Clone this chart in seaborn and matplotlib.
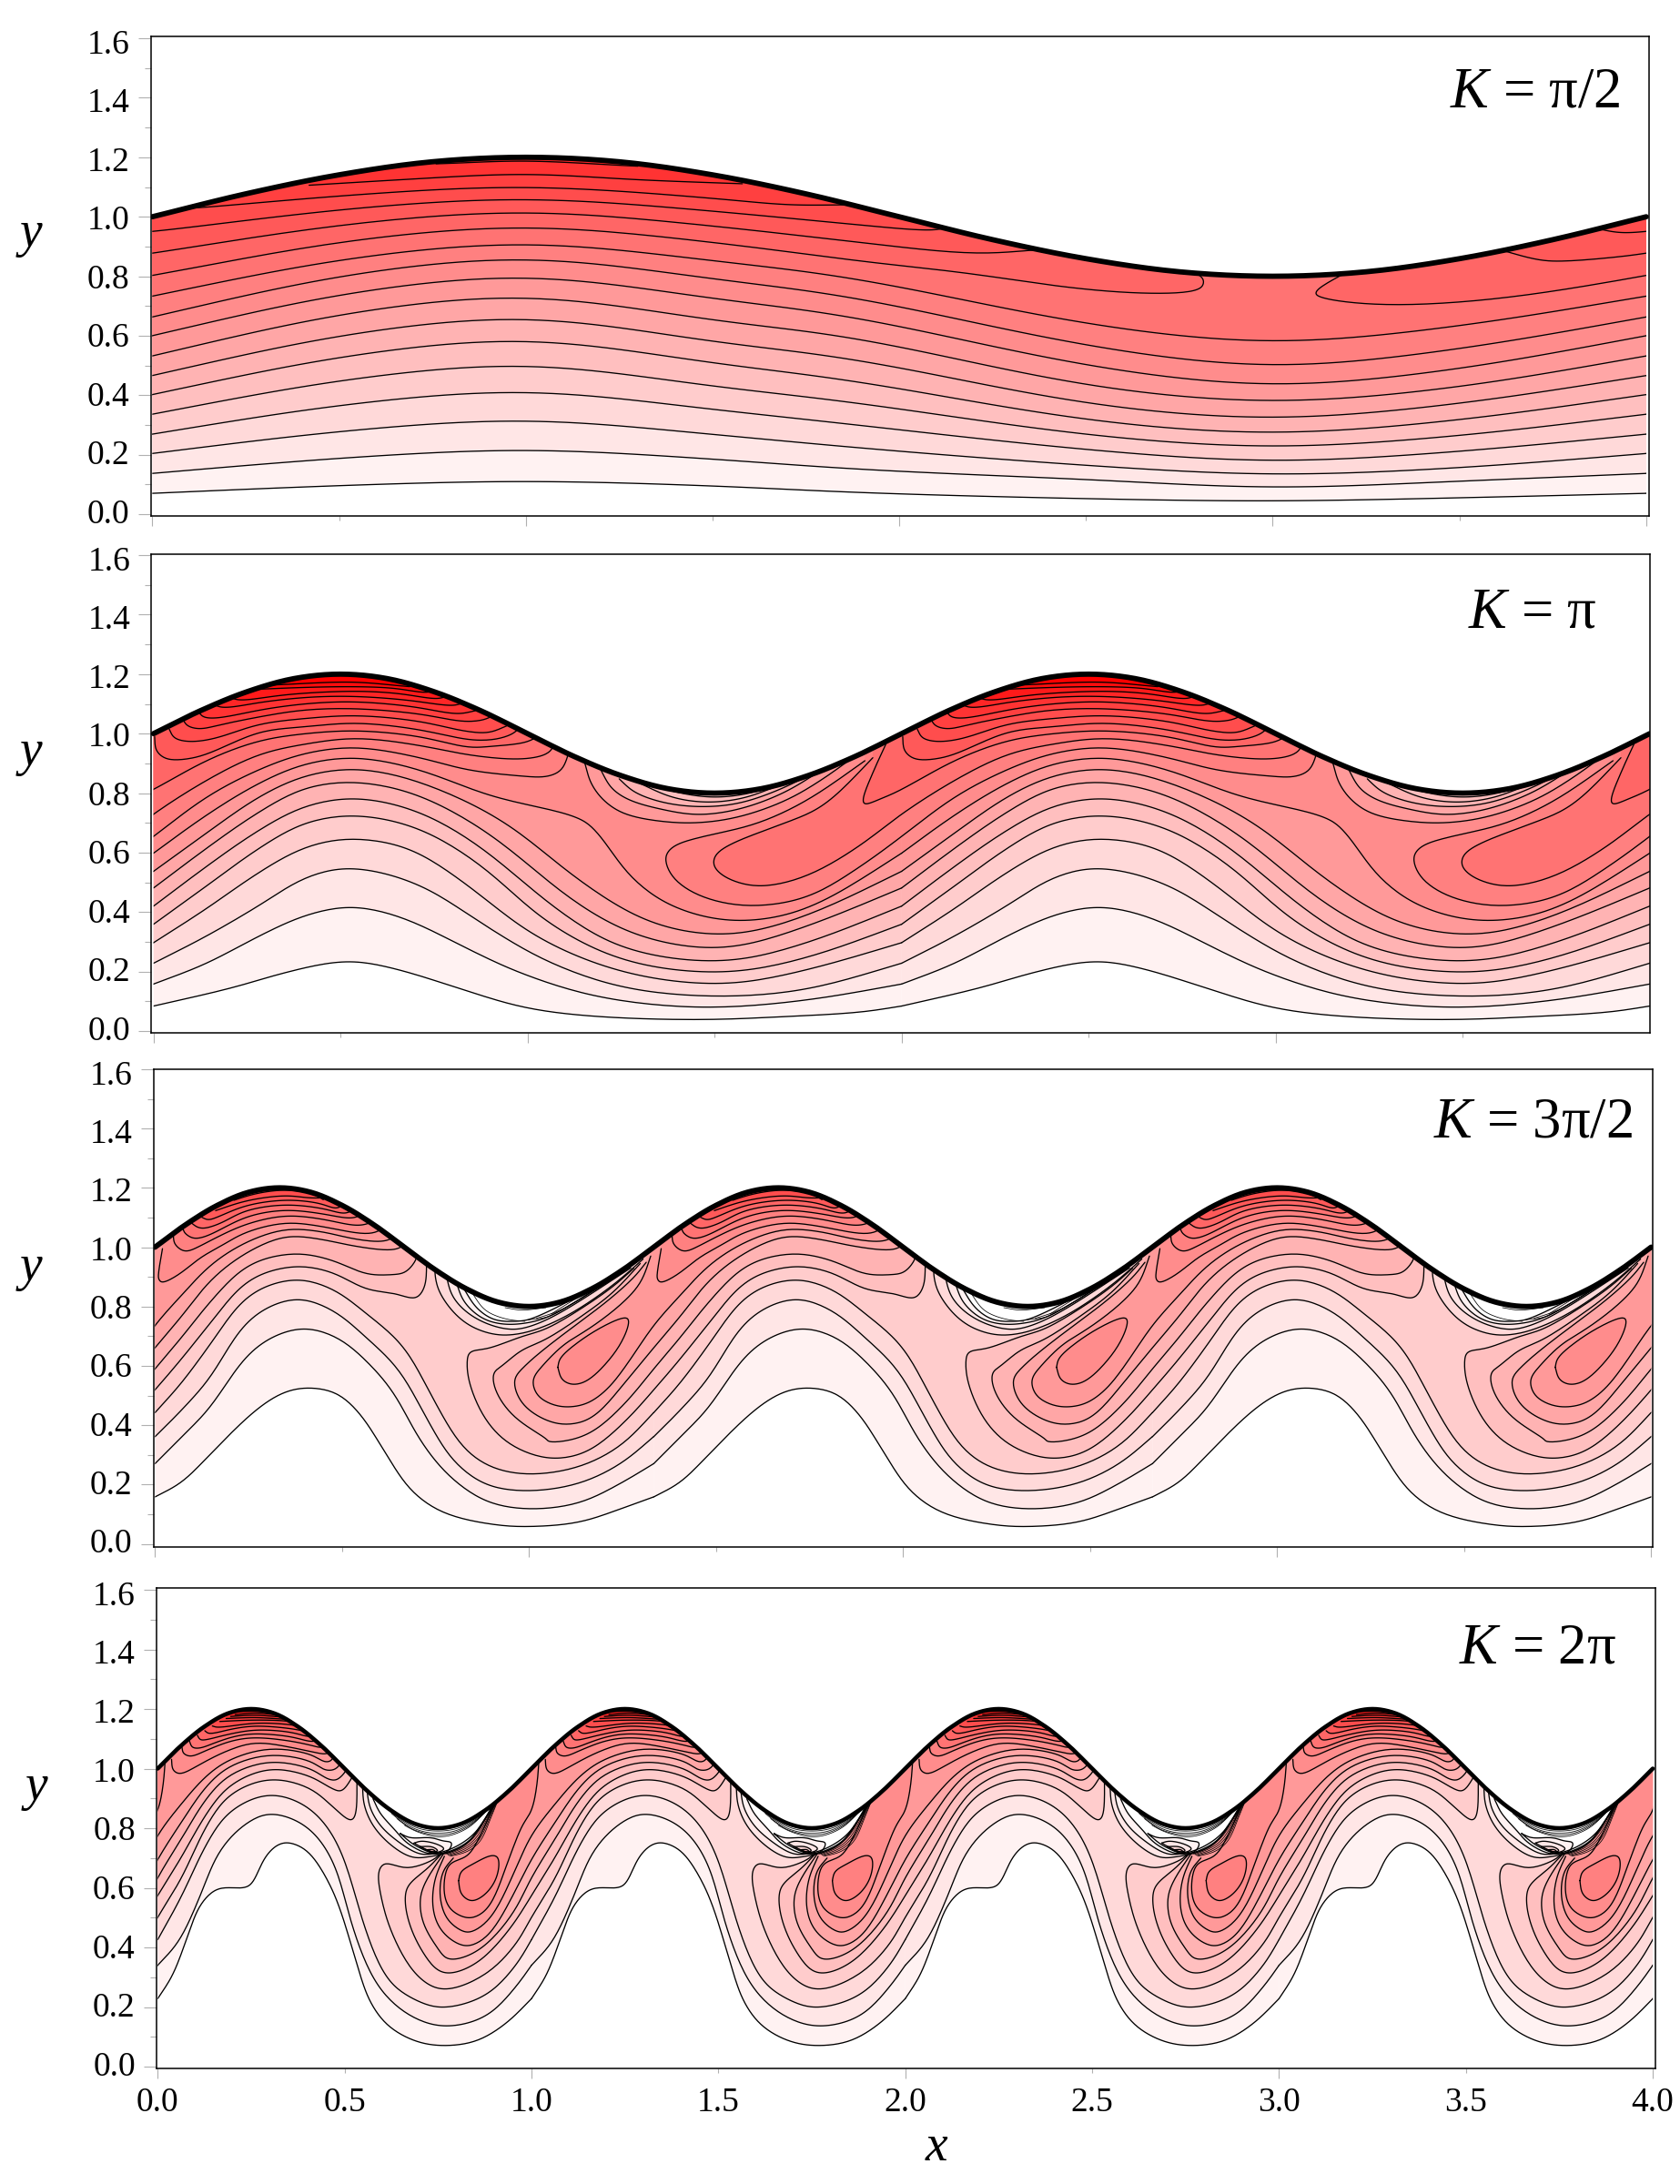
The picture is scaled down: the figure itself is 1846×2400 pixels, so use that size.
import numpy as np
import matplotlib
matplotlib.use("Agg")
import matplotlib.pyplot as plt
from matplotlib.patches import Polygon
from matplotlib.ticker import MultipleLocator, FormatStrFormatter
from matplotlib.transforms import ScaledTranslation
import seaborn as sns

# one wavelength of the wavy top wall (fraction of a wavelength, height)
WALL_PHASE = [0, .0625, .125, .1875, .25, .3125, .375, .4375, .5, .5625, .625, .6875, .75, .8125, .875, .9375, 1]
WALL_Y = [1.0, 1.077, 1.141, 1.185, 1.2, 1.185, 1.141, 1.077, 1.0, .923, .859, .815, .8, .815, .859, .923, 1.0]

# Every curve: (band it bounds, [(x, y), ...]) for one wavelength; band None = line only.
S1 = [0, .5, 1, 1.5, 1.9, 2.5, 3, 3.5, 4]
K1_HEIGHTS = [
    [.07, .096, .111, .095, .072, .052, .044, .055, .07],
    [.137, .188, .217, .185, .15, .117, .089, .111, .137],
    [.204, .278, .317, .268, .222, .164, .133, .156, .204],
    [.269, .366, .414, .352, .298, .217, .178, .211, .269],
    [.336, .449, .503, .43, .372, .267, .226, .264, .336],
    [.402, .528, .587, .508, .444, .317, .272, .317, .402],
    [.466, .60, .661, .58, .517, .372, .322, .372, .466],
    [.532, .671, .733, .652, .589, .433, .378, .428, .532],
    [.60, .738, .80, .725, .658, .50, .433, .489, .60],
    [.663, .80, .861, .791, .724, .567, .497, .556, .663],
    [.733, .855, .911, .852, .789, .64, .578, .633, .733],
]
K1_TOP = [
    (12, [(-.8, .815), (-.89, .744), (-.85, .722), (-.67, .703), (-.37, .728), (0, .802), (.5, .915), (1, .967), (1.5, .914), (1.9, .85), (2.18, .811), (2.46, .761), (2.68, .742), (2.805, .756), (2.815, .789), (2.79, .815)]),
    (13, [(-.38, .885), (-.3, .858), (-.24, .85), (-.1, .862), (0, .877), (.5, .972), (1, 1.017), (1.5, .969), (1.9, .913), (2.2, .876), (2.38, .89)]),
    (14, [(-.13, .96), (-.075, .947), (0, .95), (.5, 1.024), (1, 1.061), (1.5, 1.019), (1.9, .972), (2.1, .955), (2.13, .97)]),
    (15, [(.1, 1.03), (.123, 1.03), (.5, 1.07), (1, 1.102), (1.5, 1.062), (1.7, 1.04), (1.85, 1.04)]),
    (16, [(.42, 1.106), (.7, 1.127), (1, 1.144), (1.3, 1.124), (1.58, 1.111)]),
    (17, [(.76, 1.178), (1, 1.187), (1.3, 1.17)]),
]

K2_MAIN = [
    (1, [(0, .084), (.21, .145), (.35, .196), (.517, .236), (.657, .206), (.825, .14), (.993, .078), (1.189, .048), (1.469, .038), (1.678, .048), (1.888, .063), (2, .084)]),
    (2, [(0, .158), (.14, .226), (.28, .318), (.406, .389), (.531, .418), (.671, .379), (.839, .277), (.979, .196), (1.189, .114), (1.469, .078), (1.748, .104), (2, .158)]),
    (3, [(0, .228), (.14, .318), (.28, .42), (.406, .516), (.531, .549), (.713, .491), (.881, .359), (1.049, .236), (1.259, .145), (1.51, .116), (1.748, .14), (2, .228)]),
    (4, [(0, .297), (.14, .41), (.28, .532), (.406, .618), (.531, .647), (.685, .613), (.839, .491), (1.021, .318), (1.259, .196), (1.524, .157), (1.748, .206), (2, .297)]),
    (5, [(0, .359), (.14, .486), (.28, .613), (.406, .70), (.545, .725), (.713, .679), (.881, .552), (1.049, .369), (1.259, .236), (1.524, .196), (1.748, .247), (2, .359)]),
    (6, [(0, .42), (.14, .552), (.28, .674), (.406, .756), (.545, .783), (.713, .735), (.881, .613), (1.077, .41), (1.259, .277), (1.524, .233), (1.748, .297), (2, .42)]),
    (7, [(0, .481), (.14, .613), (.28, .735), (.406, .817), (.545, .837), (.713, .791), (.909, .654), (1.119, .44), (1.301, .318), (1.524, .277), (1.748, .353), (2, .481)]),
    (8, [(0, .537), (.14, .664), (.28, .786), (.406, .858), (.545, .881), (.713, .837), (.937, .705), (1.133, .511), (1.329, .364), (1.538, .323), (1.748, .389), (2, .537)]),
    (9, [(0, .598), (.14, .725), (.28, .832), (.406, .898), (.545, .919), (.713, .878), (.909, .786), (1.133, .72), (1.189, .664), (1.273, .522), (1.385, .42), (1.552, .369), (1.748, .41), (2, .598)]),
]
K2_LOBES = [
    (10, [(-.098, .909), (-.252, .776), (-.392, .695), (-.531, .654), (-.608, .623), (-.632, .583), (-.608, .511), (-.531, .45), (-.406, .42), (-.252, .45), (-.112, .552), (0, .654), (.14, .786), (.28, .878), (.406, .934), (.545, .954), (.713, .919), (.839, .878), (.979, .858), (1.049, .855), (1.091, .878), (1.112, .944)]),
    (11, [(-.077, .919), (-.21, .756), (-.322, .695), (-.448, .634), (-.497, .593), (-.501, .552), (-.462, .511), (-.378, .486), (-.252, .522), (-.112, .623), (0, .73), (.14, .842), (.28, .929), (.406, .965), (.545, .985), (.713, .96), (.839, .929), (.965, .914), (1.035, .924), (1.063, .944), (1.07, .97)]),
    (12, [(-.042, .965), (-.077, .868), (-.105, .761), (-.056, .781), (0, .812), (.14, .909), (.28, .975), (.406, 1.0), (.545, 1.01), (.713, .99), (.839, .954), (.909, .958), (.993, .97), (1.028, .99)]),
    (13, [(.003, .99), (.007, .944), (.031, .917), (.07, .912), (.14, .929), (.28, 1.005), (.406, 1.023), (.545, 1.036), (.713, 1.013), (.839, .98), (.909, .98), (.958, .998), (.979, 1.02)]),
    (14, [(.042, 1.015), (.056, .985), (.098, .973), (.168, .985), (.28, 1.031), (.406, 1.051), (.545, 1.061), (.713, 1.041), (.825, 1.01), (.895, 1.003), (.944, 1.026)]),
    (15, [(.077, 1.051), (.091, 1.026), (.126, 1.016), (.182, 1.031), (.294, 1.059), (.406, 1.08), (.545, 1.084), (.713, 1.066), (.825, 1.041), (.881, 1.046), (.909, 1.061)]),
    (16, [(.119, 1.077), (.133, 1.056), (.175, 1.053), (.294, 1.082), (.42, 1.102), (.545, 1.107), (.699, 1.09), (.811, 1.066), (.86, 1.077)]),
    (17, [(.161, 1.097), (.189, 1.087), (.294, 1.107), (.42, 1.123), (.545, 1.125), (.685, 1.112), (.797, 1.094), (.825, 1.102)]),
    (18, [(.203, 1.123), (.231, 1.112), (.35, 1.131), (.531, 1.143), (.657, 1.135), (.755, 1.117), (.783, 1.125)]),
    (19, [(.259, 1.148), (.392, 1.155), (.531, 1.158), (.643, 1.153), (.727, 1.138), (.75, 1.145)]),
    (20, [(.308, 1.163), (.531, 1.173), (.685, 1.158)]),
]
K2_POCKET = [
    (8, [(1.147, .919), (1.154, .898), (1.168, .837), (1.203, .776), (1.259, .73), (1.357, .705), (1.455, .70), (1.566, .72), (1.692, .776), (1.79, .848), (1.881, .93)]),
    (7, [(1.196, .878), (1.224, .817), (1.273, .776), (1.357, .746), (1.455, .727), (1.566, .746), (1.678, .797), (1.762, .858), (1.846, .93)]),
    (6, [(1.245, .848), (1.287, .802), (1.371, .766), (1.469, .754), (1.566, .766), (1.664, .807), (1.748, .858), (1.811, .91)]),
    (5, [(1.294, .837), (1.385, .786), (1.483, .769), (1.58, .784), (1.664, .822), (1.79, .878)]),
    (4, [(1.343, .822), (1.413, .799), (1.497, .786), (1.594, .799), (1.748, .858)]),
    (3, [(1.413, .812), (1.497, .795), (1.594, .809), (1.664, .837)]),
]

K3_MAIN = [
    (1, [(0, .158), (.072, .208), (.15, .305), (.261, .442), (.34, .508), (.407, .526), (.485, .508), (.552, .432), (.619, .30), (.686, .178), (.775, .102), (.91, .064), (1.0, .058), (1.133, .072), (1.245, .118), (1.333, .158)]),
    (2, [(0, .27), (.072, .361), (.15, .463), (.261, .656), (.384, .727), (.485, .697), (.574, .605), (.641, .503), (.708, .351), (.786, .229), (.887, .142), (1.0, .117), (1.133, .137), (1.245, .204), (1.333, .27)]),
    (3, [(0, .361), (.072, .452), (.15, .564), (.251, .757), (.373, .827), (.474, .788), (.563, .697), (.653, .585), (.731, .412), (.798, .28), (.887, .198), (1, .178), (1.133, .203), (1.245, .27), (1.333, .361)]),
    (4, [(0, .442), (.072, .544), (.15, .676), (.251, .839), (.373, .892), (.474, .859), (.563, .778), (.664, .666), (.742, .493), (.82, .331), (.898, .259), (1, .234), (1.133, .259), (1.245, .331), (1.333, .442)]),
    (5, [(-.053, .929), (-.109, .867), (-.19, .796), (-.288, .724), (-.353, .699), (-.442, .658), (-.49, .648), (-.499, .615), (-.491, .534), (-.446, .412), (-.379, .331), (-.278, .287), (-.178, .31), (-.077, .412), (0, .519), (.072, .625), (.15, .747), (.251, .89), (.373, .936), (.474, .915), (.563, .859), (.641, .844), (.697, .827), (.722, .87), (.726, .95)]),
    (6, [(-.036, .945), (-.109, .847), (-.19, .77), (-.288, .689), (-.353, .653), (-.40, .605), (-.429, .575), (-.418, .503), (-.368, .422), (-.289, .356), (-.278, .343), (-.178, .366), (-.077, .473), (0, .59), (.072, .697), (.15, .819), (.251, .941), (.373, .979), (.474, .956), (.563, .91), (.63, .907), (.669, .915), (.697, .956), (.70, .976)]),
    (7, [(-.02, .949), (-.053, .898), (-.126, .816), (-.223, .724), (-.296, .653), (-.344, .60), (-.373, .554), (-.357, .483), (-.312, .432), (-.245, .402), (-.167, .422), (-.077, .544), (0, .661), (.072, .768), (.15, .89), (.243, .98), (.349, 1.036), (.446, 1.026), (.527, 1.005), (.632, .99), (.664, 1.005), (.673, 1.025)]),
    (8, [(-.008, .97), (-.036, .878), (-.093, .801), (-.174, .724), (-.239, .673), (-.296, .602), (-.323, .554), (-.312, .503), (-.278, .473), (-.234, .461), (-.178, .473), (-.122, .524), (-.066, .615), (0, .737), (.072, .839), (.15, .941), (.243, 1.016), (.349, 1.06), (.446, 1.052), (.527, 1.029), (.608, 1.019), (.641, 1.036), (.645, 1.056)]),
]
K3_LOBES = [
    (9, [(1.077, .595), (1.088, .554), (1.116, .537), (1.155, .549), (1.211, .615), (1.25, .686), (1.267, .753), (1.256, .763), (1.189, .727), (1.122, .671), (1.083, .625), (1.077, .595)]),
    (9, [(.02, .995), (.01, .918), (.01, .892), (.02, .881), (.065, .909), (.122, .965), (.178, 1.005), (.243, 1.05), (.349, 1.082), (.446, 1.07), (.567, 1.044), (.608, 1.062), (.612, 1.08)]),
    (10, [(.049, 1.041), (.053, 1.01), (.081, .985), (.122, 1.005), (.162, 1.031), (.243, 1.077), (.349, 1.106), (.45, 1.094), (.543, 1.072), (.587, 1.087)]),
    (11, [(.075, 1.061), (.081, 1.046), (.105, 1.029), (.146, 1.041), (.243, 1.102), (.349, 1.125), (.45, 1.112), (.527, 1.097), (.56, 1.115)]),
    (12, [(.097, 1.082), (.114, 1.067), (.134, 1.064), (.178, 1.082), (.243, 1.123), (.349, 1.143), (.45, 1.13), (.51, 1.113), (.539, 1.136)]),
    (13, [(.122, 1.103), (.142, 1.092), (.17, 1.103), (.243, 1.14), (.349, 1.159), (.44, 1.148), (.487, 1.13), (.51, 1.155)]),
    (14, [(.162, 1.123), (.243, 1.156), (.349, 1.174), (.42, 1.165), (.486, 1.17)]),
    (15, [(.211, 1.158), (.268, 1.18), (.349, 1.193), (.42, 1.18), (.45, 1.16)]),
]
K3_POCKET = [
    (3, [(.749, .94), (.749, .903), (.761, .847), (.802, .775), (.851, .729), (.916, .704), (.98, .709), (1.045, .735), (1.11, .775), (1.175, .827), (1.24, .888), (1.305, .96)]),
    (2, [(.778, .91), (.794, .837), (.834, .78), (.891, .74), (.956, .722), (1.013, .737), (1.094, .786), (1.272, .93)]),
    (1, [(.806, .88), (.826, .816), (.875, .76), (.932, .74), (.997, .745), (1.062, .77), (1.256, .92)]),
    (0, [(.826, .86), (.859, .796), (.907, .755), (.964, .75), (1.013, .76), (1.24, .91)]),
    (None, [(.851, .84), (.883, .786), (.94, .757), (.989, .75)]),
    (None, [(.997, .755), (1.053, .765), (1.11, .806), (1.224, .895)]),
    (None, [(1.02, .76), (1.08, .785), (1.13, .82), (1.21, .885)]),
    (None, [(1.06, .775), (1.11, .815), (1.15, .845), (1.2, .885)]),
    (None, [(.936, .796), (.98, .788), (1.045, .796)]),
]

K4_MAIN = [
    (1, [(0, .228), (.041, .309), (.081, .441), (.114, .543), (.162, .599), (.227, .599), (.252, .614), (.284, .696), (.317, .741), (.349, .752), (.398, .726), (.446, .645), (.487, .533), (.536, .33), (.568, .218), (.617, .136), (.69, .085), (.763, .07), (.852, .085), (.933, .146), (1, .228)]),
    (2, [(0, .34), (.057, .421), (.114, .574), (.162, .716), (.227, .807), (.30, .85), (.398, .807), (.471, .685), (.52, .472), (.584, .279), (.666, .177), (.763, .134), (.877, .167), (.958, .268), (1, .34)]),
    (3, [(0, .426), (.065, .574), (.13, .746), (.195, .858), (.30, .914), (.406, .868), (.487, .736), (.552, .472), (.617, .289), (.69, .223), (.763, .197), (.877, .238), (.958, .34), (1, .426)]),
    (4, [(-.245, .711), (-.269, .69), (-.334, .665), (-.391, .683), (-.409, .655), (-.403, .574), (-.375, .452), (-.31, .309), (-.237, .256), (-.123, .309), (-.042, .411), (0, .502), (.065, .635), (.13, .807), (.195, .914), (.30, .965), (.406, .935), (.471, .869), (.515, .826), (.529, .843), (.533, .96)]),
    (5, [(-.241, .713), (-.278, .665), (-.326, .614), (-.338, .574), (-.33, .492), (-.294, .39), (-.237, .311), (-.148, .345), (-.058, .462), (0, .574), (.065, .706), (.13, .848), (.195, .945), (.30, .999), (.406, .975), (.463, .935), (.491, .924), (.515, .96), (.524, .98)]),
    (6, [(-.237, .711), (-.282, .624), (-.298, .563), (-.29, .482), (-.253, .401), (-.221, .358), (-.14, .39), (-.05, .513), (0, .635), (.065, .767), (.13, .899), (.195, .98), (.30, 1.023), (.406, 1.001), (.455, .965), (.479, .962), (.502, .99), (.505, 1.0)]),
    (7, [(-.233, .706), (-.257, .635), (-.265, .553), (-.253, .482), (-.221, .431), (-.172, .403), (-.115, .441), (-.05, .574), (0, .696), (.065, .823), (.13, .94), (.195, 1.009), (.30, 1.046), (.406, 1.026), (.446, .996), (.471, .996), (.487, 1.013), (.49, 1.03)]),
    (8, [(-.209, .70), (-.237, .655), (-.245, .574), (-.229, .502), (-.196, .462), (-.164, .45), (-.107, .502), (-.042, .665), (0, .777), (.065, .884), (.13, .975), (.195, 1.031), (.30, 1.067), (.406, 1.049), (.446, 1.023), (.463, 1.026), (.475, 1.05)]),
    (9, [(-.095, .894), (-.14, .767), (-.172, .706), (-.213, .685), (-.229, .655), (-.233, .574), (-.213, .523), (-.164, .497), (-.115, .533), (-.067, .675), (-.026, .807), (0, .858), (.015, .95), (.02, 1.03)]),
]
K4_LOBES = [
    (10, [(.805, .624), (.812, .655), (.844, .68), (.893, .709), (.911, .701), (.907, .635), (.877, .579), (.84, .555), (.812, .579), (.805, .624)]),
    (9, [(.037, 1.031), (.041, .995), (.061, .982), (.114, 1.015), (.179, 1.056), (.26, 1.087), (.357, 1.071), (.414, 1.056), (.45, 1.049), (.463, 1.061), (.467, 1.076)]),
    (10, [(.065, 1.071), (.069, 1.051), (.089, 1.041), (.13, 1.061), (.195, 1.092), (.26, 1.104), (.357, 1.092), (.414, 1.077), (.438, 1.071), (.45, 1.087)]),
    (11, [(.085, 1.092), (.093, 1.071), (.114, 1.069), (.154, 1.087), (.203, 1.107), (.26, 1.117), (.357, 1.107), (.414, 1.09), (.434, 1.1)]),
    (12, [(.106, 1.112), (.114, 1.097), (.13, 1.097), (.179, 1.112), (.26, 1.13), (.357, 1.122), (.406, 1.107), (.418, 1.115)]),
    (13, [(.126, 1.127), (.138, 1.117), (.195, 1.132), (.26, 1.143), (.357, 1.134), (.406, 1.122)]),
    (14, [(.146, 1.143), (.162, 1.138), (.26, 1.153), (.357, 1.147), (.39, 1.138)]),
    (15, [(.166, 1.158), (.26, 1.163), (.357, 1.158), (.373, 1.15)]),
    (16, [(.183, 1.168), (.26, 1.171), (.349, 1.165)]),
    (17, [(.195, 1.175), (.26, 1.179), (.333, 1.173)]),
    (18, [(.207, 1.181), (.26, 1.186), (.317, 1.181)]),
    (19, [(.211, 1.191), (.26, 1.192), (.30, 1.187)]),
]
K4_POCKET = [
    (2, [(.548, .94), (.552, .879), (.576, .808), (.625, .742), (.682, .701), (.734, .706), (.779, .718), (.828, .747), (.868, .818), (.901, .879), (.933, .93)]),
    (1, [(.56, .925), (.568, .869), (.596, .808), (.641, .757), (.698, .714), (.738, .714), (.787, .731), (.844, .777), (.885, .848), (.925, .92)]),
    (0, [(.576, .899), (.596, .848), (.633, .797), (.665, .752), (.714, .718), (.746, .714), (.779, .721), (.828, .752), (.86, .797), (.885, .853), (.913, .914)]),
    (1, [(.649, .782), (.677, .767), (.73, .769), (.763, .757), (.787, .752), (.775, .721), (.742, .714), (.698, .736), (.677, .752), (.649, .782)]),
    (2, [(.686, .75), (.706, .757), (.746, .747), (.767, .731), (.746, .718), (.714, .731), (.686, .75)]),
    (3, [(.702, .738), (.734, .738), (.75, .724), (.73, .721), (.702, .738)]),
    (5, [(.722, .728), (.738, .728), (.745, .716), (.73, .718), (.722, .728)]),
    (None, [(.61, .87), (.65, .828), (.70, .798), (.75, .79), (.80, .798), (.85, .828), (.895, .875)]),
    (None, [(.625, .85), (.66, .815), (.705, .79), (.75, .783), (.795, .79), (.845, .82), (.89, .87)]),
    (None, [(.64, .832), (.675, .80), (.715, .783), (.75, .777), (.79, .783), (.84, .812), (.885, .865)]),
    (None, [(.66, .81), (.69, .79), (.725, .776), (.75, .771), (.785, .776), (.835, .804), (.88, .86)]),
    (None, [(.783, .706), (.828, .721), (.864, .757), (.889, .828), (.909, .889)]),
    (None, [(.78, .708), (.826, .726), (.861, .762), (.887, .83), (.908, .889)]),
    (None, [(.777, .71), (.824, .731), (.858, .767), (.885, .833), (.907, .889)]),
    (None, [(.774, .712), (.822, .736), (.855, .772), (.882, .835), (.906, .889)]),
    (None, [(.771, .714), (.82, .742), (.852, .777), (.88, .838), (.905, .889)]),
]

PANEL_TEXT = ["$K$ = π/2", "$K$ = π", "$K$ = 3π/2", "$K$ = 2π"]
WAVELENGTH = [4.0, 2.0, 4 / 3, 1.0]

W, H = 1846, 2400
DPI = 100
sns.set_theme(style="white")
plt.rcParams["font.family"] = ["Liberation Serif", "DejaVu Serif"]
plt.rcParams["mathtext.fontset"] = "custom"
plt.rcParams["mathtext.it"] = "Liberation Serif:italic"
plt.rcParams["mathtext.rm"] = "Liberation Serif"


def smooth(pts, n=14, relax=True):
    p = np.asarray(pts, float)
    if len(p) < 3:
        return p
    p = np.vstack([2 * p[0] - p[1], p, 2 * p[-1] - p[-2]])
    out = []
    for i in range(1, len(p) - 2):
        p0, p1, p2, p3 = p[i - 1], p[i], p[i + 1], p[i + 2]
        t0 = 0.0
        t1 = t0 + max(np.hypot(*(p1 - p0)), 1e-6) ** .5
        t2 = t1 + max(np.hypot(*(p2 - p1)), 1e-6) ** .5
        t3 = t2 + max(np.hypot(*(p3 - p2)), 1e-6) ** .5
        t = np.linspace(t1, t2, n, endpoint=False)[:, None]
        a1 = (t1 - t) / (t1 - t0) * p0 + (t - t0) / (t1 - t0) * p1
        a2 = (t2 - t) / (t2 - t1) * p1 + (t - t1) / (t2 - t1) * p2
        a3 = (t3 - t) / (t3 - t2) * p2 + (t - t2) / (t3 - t2) * p3
        b1 = (t2 - t) / (t2 - t0) * a1 + (t - t0) / (t2 - t0) * a2
        b2 = (t3 - t) / (t3 - t1) * a2 + (t - t1) / (t3 - t1) * a3
        out.append((t2 - t) / (t2 - t1) * b1 + (t - t1) / (t2 - t1) * b2)
    out.append(p[-2:-1])
    s = np.vstack(out)
    if relax and len(s) > 40:
        k = 9
        pad = 2 * k
        head = 2 * s[0] - s[1:pad + 1][::-1]
        tail = 2 * s[-1] - s[-pad - 1:-1][::-1]
        e = np.vstack([head, s, tail])
        box = np.ones(k) / k
        for _ in range(2):
            e = np.c_[np.convolve(e[:, 0], box, "same"), np.convolve(e[:, 1], box, "same")]
        s = e[pad:-pad]
    return s


def band_colour(i):
    g = max(0, 255 - 12.75 * i) / 255
    return (1.0, g, g)


def draw_panel(box, tick0, unit, y_tick0, yunit, curves, lam, wall_lw, show_x):
    left, right, top, bottom = box
    ax = fig.add_axes([left / W, 1 - bottom / H, (right - left) / W, (bottom - top) / H])
    xlim = ((left - tick0) / unit, (right - tick0) / unit)
    ylim = ((y_tick0 - bottom) / yunit, (y_tick0 - top) / yunit)

    n_per = int(round(4 / lam))
    wx, wy = [], []
    for k in range(n_per):
        wx += [(k + f) * lam for f in WALL_PHASE[:-1]]
        wy += WALL_Y[:-1]
    wx.append(4.0)
    wy.append(WALL_Y[-1])
    wall = smooth(list(zip(wx, wy)), 6, relax=False)
    clip = Polygon(np.vstack([wall, [[4, 0], [0, 0]]]), closed=True, transform=ax.transData)

    shifted = []
    for band, pts in curves:
        s = smooth(pts)
        closed = pts[0] == pts[-1]
        for k in range(-2, n_per + 2):
            sx = s[:, 0] + k * lam
            if sx.max() < 0 or sx.min() > 4:
                continue
            shifted.append((band, closed, sx, s[:, 1]))

    for band, closed, sx, sy in shifted:
        if band is None:
            continue
        if closed:
            fx, fy = sx, sy
        else:
            fx = np.r_[sx, sx[-1], sx[0]]
            fy = np.r_[sy, 1.5, 1.5]
        ax.fill(fx, fy, color=band_colour(band), lw=0, zorder=1)[0].set_clip_path(clip)

    for band, closed, sx, sy in shifted:
        sns.lineplot(x=sx, y=sy, sort=False, estimator=None, color="black",
                     linewidth=0.95 if band is not None else 0.55, ax=ax, legend=False, zorder=2)
        ax.lines[-1].set_clip_path(clip)

    sns.lineplot(x=wall[:, 0], y=wall[:, 1], sort=False, estimator=None, color="black",
                 linewidth=wall_lw, ax=ax, legend=False, zorder=3)

    ax.set_xlim(xlim)
    ax.set_ylim(ylim)
    ax.set_xlabel("")
    ax.set_ylabel("")
    for sp in ax.spines.values():
        sp.set_visible(True)
        sp.set_color("black")
        sp.set_linewidth(1.1)
    ax.xaxis.set_major_locator(MultipleLocator(1))
    ax.xaxis.set_minor_locator(MultipleLocator(.5))
    ax.yaxis.set_major_locator(MultipleLocator(.2))
    ax.yaxis.set_minor_locator(MultipleLocator(.1))
    ax.tick_params(axis="x", which="major", length=8, width=.8, color="#b0b0b0", pad=7,
                   bottom=True, labelbottom=show_x, labelsize=27, labelcolor="black")
    ax.tick_params(axis="x", which="minor", length=3.6, width=.8, color="#b0b0b0", pad=11.4,
                   bottom=True, labelbottom=show_x, labelsize=27, labelcolor="black")
    ax.tick_params(axis="y", which="major", length=10, width=.8, color="#b0b0b0", pad=6.5,
                   left=True, labelsize=27, labelcolor="black")
    ax.tick_params(axis="y", which="minor", length=5, width=.8, color="#b0b0b0", left=True)
    ax.yaxis.set_major_formatter(FormatStrFormatter("%.1f"))
    ax.xaxis.set_major_formatter(FormatStrFormatter("%.1f"))
    if show_x:
        ax.xaxis.set_minor_formatter(FormatStrFormatter("%.1f"))
    # the printed y labels sit slightly closer together than the ticks
    for tick in ax.yaxis.get_major_ticks():
        v = tick.get_loc()
        off = (-(v - .8) / .8 * 3.5) / DPI
        tick.label1.set_transform(tick.label1.get_transform()
                                  + ScaledTranslation(0, off, fig.dpi_scale_trans))
    return ax


def tex(px, py, s, size, **kw):
    fig.text(px / W, 1 - py / H, s, fontsize=size, ha="center", va="center", color="black", **kw)


fig = plt.figure(figsize=(W / DPI, H / DPI), dpi=DPI)

K1_MAIN = [(i + 1, list(zip(S1, row))) for i, row in enumerate(K1_HEIGHTS)]
draw_panel((165.6, 1811.6, 40.4, 567), 167.3, 410.4, 565, 326.8, K1_MAIN + K1_TOP, WAVELENGTH[0], 4.2, False)
draw_panel((166.4, 1812.6, 609, 1135), 168.7, 411, 1133, 326.8, K2_MAIN + K2_LOBES + K2_POCKET, WAVELENGTH[1], 4.2, False)
draw_panel((168.5, 1815.5, 1174.5, 1699.5), 170.3, 411, 1696.5, 326, K3_MAIN + K3_LOBES + K3_POCKET, WAVELENGTH[2], 4.2, False)
draw_panel((171.7, 1819, 1745, 2273), 173.3, 410.7, 2271, 327.5, K4_MAIN + K4_LOBES + K4_POCKET, WAVELENGTH[3], 3.3, True)

for (px, py), s in zip([(1687, 103), (1684, 675), (1684, 1235), (1689, 1812)], PANEL_TEXT):
    tex(px, py, s, 45)
for px, py in [(34, 257), (34, 827), (34, 1393), (40, 1964)]:
    tex(px, py, "y", 40, style="italic")
tex(1029, 2360, "x", 40, style="italic")

fig.savefig("out.png", dpi=DPI)
